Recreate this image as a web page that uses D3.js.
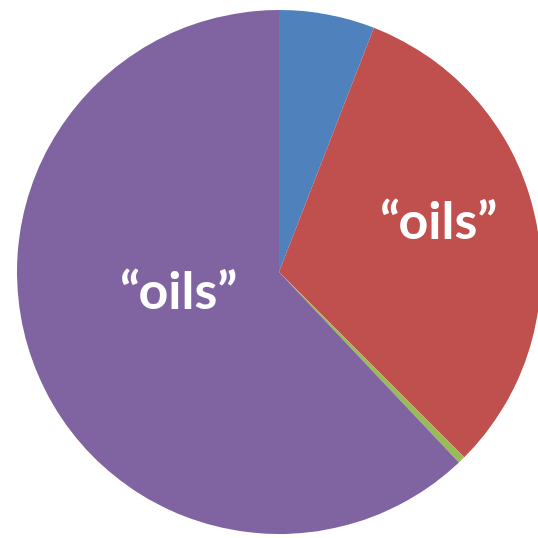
<!DOCTYPE html>
<html>
<head>
<meta charset="utf-8">
<script src="https://cdn.jsdelivr.net/npm/d3@7"></script>
<style>
  html, body { margin: 0; padding: 0; background: #fff; }
</style>
</head>
<body>
<div id="chart"></div>
<script>
// slice data (percent of the whole)
const categories = ['A', 'B', 'C', 'D'];
const values = [5.9, 31.6, 0.45, 62.05];
const colors = ['#4F81BD', '#C0504D', '#9BBB59', '#8064A2'];
const labels = ['', '\u201Coils\u201D', '', '\u201Coils\u201D'];

const width = 538;
const height = 538;
const cx = 279;
const cy = 272;
const radius = 262;

// where each label sits: share of radius and a turn (degrees) from the slice middle
const labelRadius = [0, 0.64, 0, 0.39];
const labelTurn = [0, -6, 0, 11];

const data = categories.map((c, i) => ({
  name: c, value: values[i], color: colors[i], label: labels[i],
  lr: labelRadius[i], lt: labelTurn[i]
}));

const svg = d3.select('#chart')
  .append('svg')
  .attr('width', width)
  .attr('height', height);

const g = svg.append('g')
  .attr('transform', `translate(${cx},${cy})`);

const pie = d3.pie()
  .sort(null)
  .value(d => d.value);

const arc = d3.arc()
  .innerRadius(0)
  .outerRadius(radius);

const arcs = pie(data);

g.selectAll('path')
  .data(arcs)
  .join('path')
  .attr('d', arc)
  .attr('fill', d => d.data.color);

g.selectAll('text')
  .data(arcs.filter(d => d.data.label))
  .join('text')
  .attr('transform', d => {
    const a = (d.startAngle + d.endAngle) / 2 + d.data.lt * Math.PI / 180;
    const r = radius * d.data.lr;
    return `translate(${r * Math.sin(a)},${-r * Math.cos(a)})`;
  })
  .attr('text-anchor', 'middle')
  .attr('dy', '0.35em')
  .style('font-family', 'Lato, "Open Sans", sans-serif')
  .style('font-weight', 'bold')
  .style('font-size', '52px')
  .style('fill', '#fff')
  .text(d => d.data.label);
</script>
</body>
</html>
